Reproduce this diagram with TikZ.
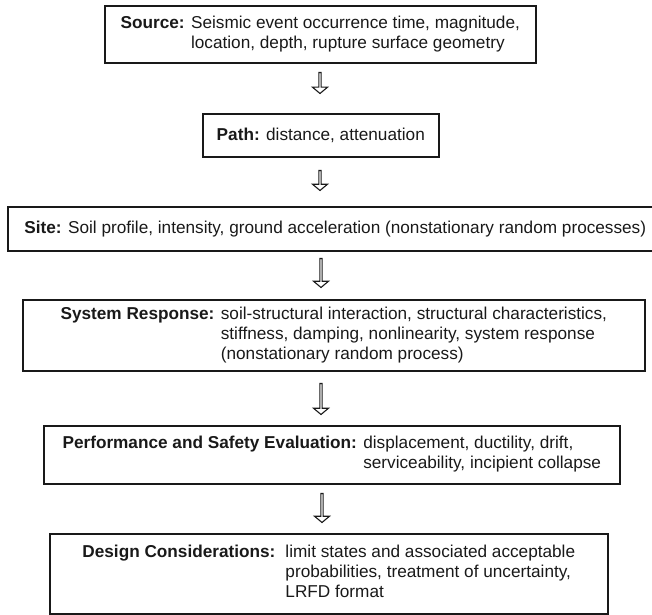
\documentclass[tikz,border=0pt]{standalone}
\usepackage{fontspec}
\setmainfont{Liberation Sans}
\usetikzlibrary{shapes.arrows}
\begin{document}
\begin{tikzpicture}[x=1pt,y=-1pt,
  box/.style={draw=black!90, line width=1.6pt, inner sep=0pt, anchor=north west,
    text=black!90, font=\fontsize{17.2}{20}\selectfont},
  downarr/.style={single arrow, draw=black!90, line width=1.1pt, fill=white,
    shape border rotate=270, inner sep=0pt, minimum width=15pt,
    single arrow head extend=3pt, single arrow tip angle=100}
]
\useasboundingbox (0,0) rectangle (652,614);
\clip (0,0) rectangle (652,614);

\node[box, minimum width=431pt, minimum height=57pt] (src) at (104,5)
  {\begin{tabular}{@{}l@{ }l@{}}\textbf{Source:} & Seismic event occurrence time, magnitude,\\
   & location, depth, rupture surface geometry\end{tabular}};

\node[box, minimum width=236pt, minimum height=43pt] (path) at (202,113)
  {\textbf{Path:} distance, attenuation};

\node[box, minimum width=655pt, minimum height=44pt] (site) at (7,206)
  {\textbf{Site:} Soil profile, intensity, ground acceleration (nonstationary random processes)};

\node[box, minimum width=622pt, minimum height=71pt] (sys) at (22,299)
  {\begin{tabular}{@{}l@{ }l@{}}\textbf{System Response:} & soil-structural interaction, structural characteristics,\\
   & stiffness, damping, nonlinearity, system response\\
   & (nonstationary random process)\end{tabular}};

\node[box, minimum width=576pt, minimum height=58pt] (perf) at (43,425)
  {\begin{tabular}{@{}l@{ }l@{}}\textbf{Performance and Safety Evaluation:} & displacement, ductility, drift,\\
   & serviceability, incipient collapse\end{tabular}};

\node[box, minimum width=558pt, minimum height=80pt] (des) at (49,533)
  {\begin{tabular}{@{}l@{\hspace{10pt}}l@{}}\textbf{Design Considerations:} & limit states and associated acceptable\\
   & probabilities, treatment of uncertainty,\\
   & LRFD format\end{tabular}};

\node[downarr, minimum height=21pt] (a1) at (320,82.5) {};
\node[downarr, minimum height=20pt] (a2) at (320,180) {};
\node[downarr, minimum height=29pt] (a3) at (321,272.5) {};
\node[downarr, minimum height=31pt] (a4) at (321,398.5) {};
\node[downarr, minimum height=29pt] (a5) at (322,507.5) {};
\end{tikzpicture}
\end{document}
